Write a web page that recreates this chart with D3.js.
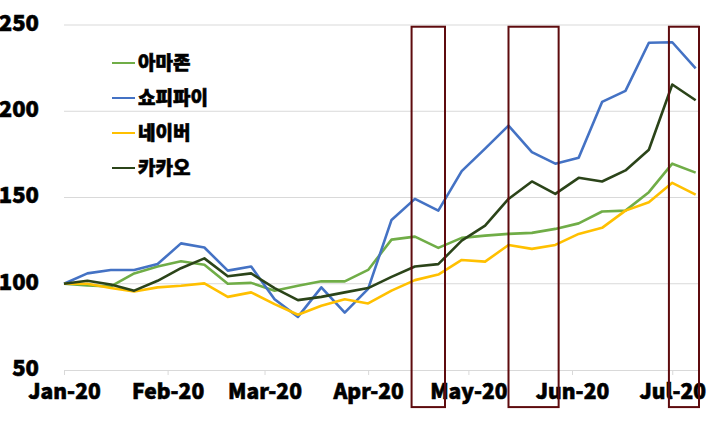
<!DOCTYPE html>
<html>
<head>
<meta charset="utf-8">
<script src="https://cdn.jsdelivr.net/npm/d3@7"></script>
<style>
  body { margin: 0; background: #fff; }
  text { font-family: "Noto Sans CJK KR", "Noto Sans", sans-serif; font-weight: 900; fill: #000; stroke: #000; stroke-width: 0.6px; }
</style>
</head>
<body>
<svg id="chart" width="720" height="423"></svg>
<script>
// weekly dates
const dates = [
  "2020-01-01", "2020-01-08", "2020-01-15", "2020-01-22", "2020-01-29",
  "2020-02-05", "2020-02-12", "2020-02-19", "2020-02-26",
  "2020-03-04", "2020-03-11", "2020-03-18", "2020-03-25",
  "2020-04-01", "2020-04-08", "2020-04-15", "2020-04-22", "2020-04-29",
  "2020-05-06", "2020-05-13", "2020-05-20", "2020-05-27",
  "2020-06-03", "2020-06-10", "2020-06-17", "2020-06-24",
  "2020-07-01", "2020-07-08"
];
const amazon = [100, 99, 98.5, 106, 110, 113, 111, 100, 100.5, 96, 98.8, 101.4, 101.4, 108,
  125.6, 127.3, 120.8, 126.6, 127.9, 128.9, 129.5, 131.8, 135, 141.9, 142.4, 153.1, 169.6, 164.4];
const shopify = [100, 106, 108, 108, 111.4, 123.4, 121, 107.6, 110, 91, 80.8, 97.9, 83.3, 97,
  137, 149.2, 142.4, 165.3, 178.3, 191.7, 176.3, 169.6, 173, 205.4, 211.8, 239.7, 240, 224.8];
const naver = [100, 100, 97.5, 95.5, 97.9, 98.8, 100.2, 92.4, 95, 88.2, 82, 87.2, 91, 88.6,
  96, 102.1, 105.3, 113.8, 112.8, 122.5, 120.2, 122.5, 128.9, 132.4, 142.4, 147.3, 158.5, 151.7];
const kakao = [100, 101.7, 99.6, 96, 101.7, 109, 114.7, 104.3, 106, 97.5, 90.5, 92.4, 95, 97.5,
  104, 110, 111.4, 125, 133.7, 149.2, 159.3, 152.1, 161.4, 159.3, 165.7, 177.7, 215.5, 206.4];

const seriesNames = ["아마존", "쇼피파이", "네이버", "카카오"];
const seriesValues = [amazon, shopify, naver, kakao];
const seriesColors = ["#70AD47", "#4472C4", "#FFC000", "#2B4419"];
const yTicks = [50, 100, 150, 200, 250];

// highlighted periods (red boxes)
const boxStarts = ["2020-04-14", "2020-05-13", "2020-06-30"];
const boxEnds = ["2020-04-24", "2020-05-28", "2020-07-09"];
const boxTop = 249, boxBottom = 28.5;

const parse = d3.timeParse("%Y-%m-%d");
const svg = d3.select("#chart");
const margin = { left: 64, right: 21, top: 25, bottom: 53 };
const W = 720, H = 423;

const x = d3.scaleTime()
  .domain([parse("2020-01-01"), parse("2020-07-09")])
  .range([margin.left, W - margin.right]);
const y = d3.scaleLinear()
  .domain([50, 250])
  .range([H - margin.bottom, margin.top]);

// gridlines
svg.append("g")
  .selectAll("line")
  .data(yTicks.slice(1))
  .join("line")
  .attr("x1", x.range()[0])
  .attr("x2", x.range()[1])
  .attr("y1", d => y(d))
  .attr("y2", d => y(d))
  .attr("stroke", "#D9D9D9")
  .attr("stroke-width", 1);

// y labels
svg.append("g")
  .selectAll("text")
  .data(yTicks)
  .join("text")
  .attr("x", 39)
  .attr("y", d => y(d) - 2)
  .attr("dy", "0.36em")
  .attr("text-anchor", "end")
  .style("font-size", "22px")
  .text(d => d);

// x axis
const xAxis = svg.append("g")
  .attr("transform", `translate(0,${y(50)})`)
  .call(d3.axisBottom(x)
    .ticks(d3.timeMonth.every(1))
    .tickFormat(d3.timeFormat("%b-%y"))
    .tickSize(5)
    .tickSizeOuter(0));
xAxis.select(".domain").attr("stroke", "#D9D9D9");
xAxis.selectAll(".tick line").attr("stroke", "#D9D9D9");
xAxis.selectAll(".tick text")
  .attr("y", 12)
  .attr("dy", "0.8em")
  .style("font-size", "21px")
  .style("font-family", "'Noto Sans CJK KR', sans-serif")
  .style("font-weight", 900)
  .attr("fill", "#000");

// lines
const line = d3.line()
  .x((d, i) => x(parse(dates[i])))
  .y(d => y(d));

svg.append("g")
  .selectAll("path")
  .data(seriesValues)
  .join("path")
  .attr("d", d => line(d))
  .attr("fill", "none")
  .attr("stroke", (d, i) => seriesColors[i])
  .attr("stroke-width", 2.6)
  .attr("stroke-linejoin", "round");

// red boxes
svg.append("g")
  .selectAll("rect")
  .data(boxStarts)
  .join("rect")
  .attr("x", (d, i) => x(parse(d)))
  .attr("width", (d, i) => x(parse(boxEnds[i])) - x(parse(d)))
  .attr("y", y(boxTop))
  .attr("height", y(boxBottom) - y(boxTop))
  .attr("fill", "none")
  .attr("stroke", "#5E0B0E")
  .attr("stroke-width", 2);

// legend
const legend = svg.append("g").attr("transform", "translate(112,63)");
const items = legend.selectAll("g")
  .data(seriesNames)
  .join("g")
  .attr("transform", (d, i) => `translate(0,${i * 35})`);
items.append("line")
  .attr("x1", 0).attr("x2", 23)
  .attr("stroke", (d, i) => seriesColors[i])
  .attr("stroke-width", 2);
items.append("text")
  .attr("x", 26)
  .attr("dy", "0.36em")
  .style("font-size", "19px")
  .text(d => d);
</script>
</body>
</html>
